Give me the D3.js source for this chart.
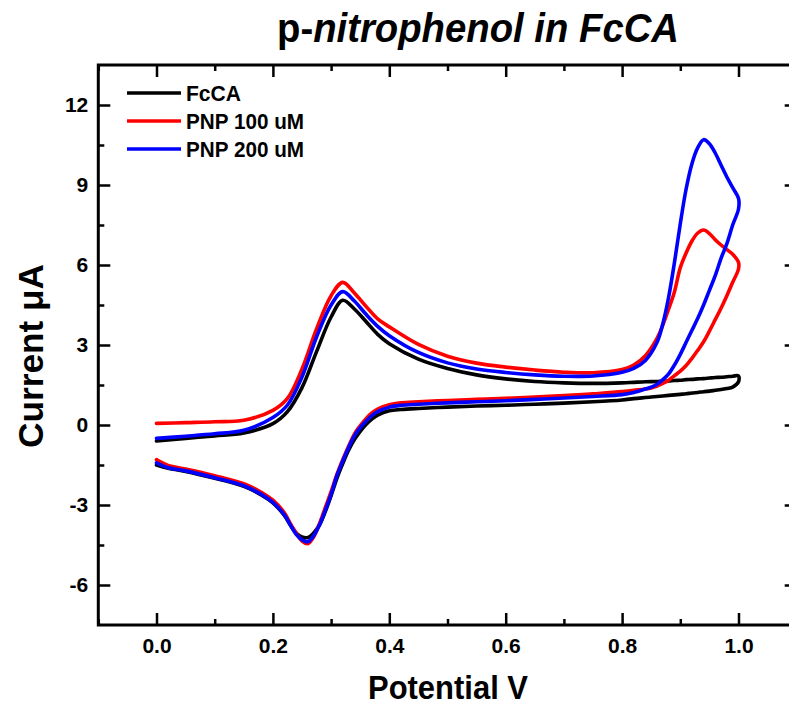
<!DOCTYPE html>
<html>
<head>
<meta charset="utf-8">
<script src="https://cdn.jsdelivr.net/npm/d3@7"></script>
<style>
  html, body { margin: 0; padding: 0; background: #fff; }
  svg { display: block; }
  text { font-family: "Liberation Sans", Arial, Helvetica, sans-serif; font-weight: bold; fill: #000; }
</style>
</head>
<body>
<svg id="chart" width="789" height="706"></svg>
<script>
// ---------------- data ----------------
const seriesNames = ["FcCA", "PNP 100 uM", "PNP 200 uM"];
const seriesColors = ["#000000", "#ff0000", "#0000ff"];

// forward (anodic) scan potentials, V
const potentialFwd = [0, 0.05, 0.1, 0.15, 0.2, 0.225, 0.25, 0.275, 0.3, 0.32, 0.34, 0.36, 0.38, 0.4, 0.45, 0.5, 0.55, 0.6, 0.65, 0.7, 0.75, 0.8, 0.82, 0.84, 0.86, 0.87, 0.88, 0.89, 0.9, 0.91, 0.92, 0.93, 0.94, 0.95, 0.96, 0.97, 0.98, 0.99, 1.0];
// reverse (cathodic) scan potentials, V
const potentialRev = [1.0, 0.99, 0.98, 0.97, 0.96, 0.95, 0.94, 0.93, 0.92, 0.91, 0.9, 0.89, 0.88, 0.87, 0.86, 0.85, 0.84, 0.82, 0.8, 0.75, 0.7, 0.65, 0.6, 0.55, 0.5, 0.45, 0.42, 0.4, 0.38, 0.37, 0.36, 0.35, 0.34, 0.33, 0.32, 0.31, 0.3, 0.29, 0.28, 0.27, 0.26, 0.25, 0.24, 0.23, 0.22, 0.2, 0.18, 0.15, 0.1, 0.05, 0.02, 0.0];

// currents, µA
const fccaFwd = [-0.6, -0.5, -0.41, -0.3, 0.05, 0.5, 1.4, 2.75, 4.05, 4.68, 4.35, 3.88, 3.4, 3.05, 2.47, 2.12, 1.88, 1.73, 1.63, 1.58, 1.56, 1.58, 1.6, 1.62, 1.63, 1.64, 1.65, 1.67, 1.68, 1.7, 1.71, 1.73, 1.74, 1.76, 1.78, 1.79, 1.81, 1.83, 1.84];
const fccaRev = [1.62, 1.42, 1.37, 1.33, 1.3, 1.27, 1.25, 1.22, 1.2, 1.17, 1.15, 1.13, 1.11, 1.09, 1.07, 1.05, 1.03, 0.99, 0.94, 0.87, 0.82, 0.78, 0.74, 0.71, 0.67, 0.62, 0.58, 0.53, 0.37, 0.22, 0.02, -0.24, -0.55, -0.95, -1.45, -2.0, -2.65, -3.25, -3.75, -4.05, -4.22, -4.2, -4.05, -3.75, -3.4, -2.92, -2.62, -2.3, -2.0, -1.74, -1.62, -1.5];

const pnp100Fwd = [0.06, 0.09, 0.12, 0.18, 0.55, 1.0, 2.1, 3.6, 4.85, 5.35, 4.95, 4.45, 3.98, 3.68, 3.02, 2.58, 2.32, 2.17, 2.06, 1.98, 1.96, 2.08, 2.25, 2.6, 3.25, 3.75, 4.35, 5.0, 5.9, 6.45, 6.9, 7.2, 7.31, 7.18, 6.95, 6.75, 6.58, 6.4, 6.1];
const pnp100Rev = [5.85, 5.35, 4.85, 4.38, 3.95, 3.52, 3.12, 2.8, 2.5, 2.23, 2.02, 1.85, 1.68, 1.56, 1.46, 1.39, 1.35, 1.3, 1.25, 1.17, 1.1, 1.05, 1.0, 0.96, 0.92, 0.87, 0.83, 0.76, 0.6, 0.45, 0.24, -0.03, -0.34, -0.8, -1.3, -1.85, -2.5, -3.1, -3.7, -4.2, -4.45, -4.35, -4.05, -3.7, -3.3, -2.82, -2.52, -2.2, -1.9, -1.65, -1.52, -1.3];

const pnp200Fwd = [-0.5, -0.42, -0.33, -0.2, 0.28, 0.75, 1.8, 3.3, 4.5, 5.0, 4.65, 4.15, 3.7, 3.35, 2.72, 2.33, 2.1, 1.97, 1.88, 1.83, 1.84, 1.98, 2.12, 2.42, 3.1, 3.8, 4.8, 6.1, 7.55, 8.85, 9.8, 10.4, 10.7, 10.55, 10.2, 9.75, 9.3, 8.9, 8.5];
const pnp200Rev = [8.1, 7.5, 6.8, 6.25, 5.6, 5.05, 4.5, 4.0, 3.55, 3.1, 2.65, 2.25, 1.92, 1.7, 1.53, 1.42, 1.35, 1.22, 1.14, 1.07, 1.01, 0.96, 0.91, 0.87, 0.83, 0.78, 0.74, 0.67, 0.5, 0.35, 0.14, -0.1, -0.41, -0.85, -1.35, -1.9, -2.6, -3.2, -3.75, -4.15, -4.38, -4.3, -4.1, -3.75, -3.38, -2.9, -2.6, -2.28, -1.98, -1.72, -1.6, -1.42];

const xMajorTicks = [0.0, 0.2, 0.4, 0.6, 0.8, 1.0];
const xMinorTicks = [-0.1, 0.1, 0.3, 0.5, 0.7, 0.9, 1.1];
const yMajorTicks = [-6, -3, 0, 3, 6, 9, 12];
const yMinorTicks = [-4.5, -1.5, 1.5, 4.5, 7.5, 10.5];

const titleText = ["p-", "nitrophenol in FcCA"];
const xLabel = "Potential V";
const yLabel = "Current \u03bcA";

// ---------------- chart ----------------
const svg = d3.select("#chart");
const plotLeft = 98.3, plotRight = 796.7, plotTop = 65, plotBottom = 625;

const x = d3.scaleLinear().domain([-0.1, 1.1]).range([plotLeft, plotRight]);
const y = d3.scaleLinear().domain([-7.5, 13.5]).range([plotBottom, plotTop]);

const curves = [
  {fwd: fccaFwd, rev: fccaRev},
  {fwd: pnp100Fwd, rev: pnp100Rev},
  {fwd: pnp200Fwd, rev: pnp200Rev}
];

const clipId = "plotclip";
svg.append("defs").append("clipPath").attr("id", clipId)
  .append("rect").attr("x", plotLeft).attr("y", plotTop)
  .attr("width", plotRight - plotLeft).attr("height", plotBottom - plotTop);

const line = d3.line()
  .x(d => x(d[0]))
  .y(d => y(d[1]))
  .curve(d3.curveCatmullRom.alpha(0.5));

const plot = svg.append("g").attr("clip-path", `url(#${clipId})`);
curves.forEach((c, i) => {
  const pts = potentialFwd.map((v, k) => [v, c.fwd[k]])
    .concat(potentialRev.map((v, k) => [v, c.rev[k]]));
  plot.append("path")
    .datum(pts)
    .attr("d", line)
    .attr("fill", "none")
    .attr("stroke", seriesColors[i])
    .attr("stroke-width", 3.6)
    .attr("stroke-linejoin", "round")
    .attr("stroke-linecap", "round");
});

// axes (ticks inward)
function styleAxis(g) {
  g.select(".domain").remove();
  g.selectAll(".tick line").attr("stroke", "#000").attr("stroke-width", 2.5);
  g.selectAll(".tick text").style("font-size", "21px").style("font-family", '"Liberation Sans", Arial, sans-serif').style("font-weight", "bold");
}
const plainFormat = d => String(d);

// bottom
svg.append("g").attr("transform", `translate(0,${plotBottom})`)
  .call(d3.axisBottom(x).tickValues(xMajorTicks).tickSize(-12).tickPadding(13).tickFormat(d3.format(".1f")))
  .call(styleAxis);
svg.append("g").attr("transform", `translate(0,${plotBottom})`)
  .call(d3.axisBottom(x).tickValues(xMinorTicks).tickSize(-6).tickFormat(""))
  .call(styleAxis);
// top
svg.append("g").attr("transform", `translate(0,${plotTop})`)
  .call(d3.axisTop(x).tickValues(xMajorTicks).tickSize(-12).tickFormat(""))
  .call(styleAxis);
svg.append("g").attr("transform", `translate(0,${plotTop})`)
  .call(d3.axisTop(x).tickValues(xMinorTicks).tickSize(-6).tickFormat(""))
  .call(styleAxis);
// left
svg.append("g").attr("transform", `translate(${plotLeft},0)`)
  .call(d3.axisLeft(y).tickValues(yMajorTicks).tickSize(-12).tickPadding(10).tickFormat(plainFormat))
  .call(styleAxis);
svg.append("g").attr("transform", `translate(${plotLeft},0)`)
  .call(d3.axisLeft(y).tickValues(yMinorTicks).tickSize(-6).tickFormat(""))
  .call(styleAxis);
// right
svg.append("g").attr("transform", `translate(${plotRight},0)`)
  .call(d3.axisRight(y).tickValues(yMajorTicks).tickSize(-12).tickFormat(""))
  .call(styleAxis);
svg.append("g").attr("transform", `translate(${plotRight},0)`)
  .call(d3.axisRight(y).tickValues(yMinorTicks).tickSize(-6).tickFormat(""))
  .call(styleAxis);

// frame
svg.append("rect")
  .attr("x", plotLeft).attr("y", plotTop)
  .attr("width", plotRight - plotLeft).attr("height", plotBottom - plotTop)
  .attr("fill", "none").attr("stroke", "#000").attr("stroke-width", 3);

// legend
const legendWidths = [55, 118, 118];
const legend = svg.append("g");
seriesNames.forEach((name, i) => {
  const ly = 93 + i * 28;
  legend.append("line")
    .attr("x1", 127).attr("x2", 181).attr("y1", ly).attr("y2", ly)
    .attr("stroke", seriesColors[i]).attr("stroke-width", 3.6);
  legend.append("text")
    .attr("x", 186).attr("y", ly).attr("dy", "0.36em")
    .style("font-size", "22px")
    .attr("textLength", legendWidths[i])
    .attr("lengthAdjust", "spacingAndGlyphs")
    .text(name);
});

// title
const title = svg.append("text")
  .attr("x", 478).attr("y", 42)
  .attr("text-anchor", "middle")
  .style("font-size", "40px")
  .attr("textLength", 402)
  .attr("lengthAdjust", "spacingAndGlyphs");
title.append("tspan").text(titleText[0]);
title.append("tspan").style("font-style", "italic").text(titleText[1]);

// axis labels
svg.append("text")
  .attr("x", 448).attr("y", 699)
  .attr("text-anchor", "middle")
  .style("font-size", "34px")
  .attr("textLength", 160)
  .attr("lengthAdjust", "spacingAndGlyphs")
  .text(xLabel);

svg.append("text")
  .attr("transform", "translate(43,356) rotate(-90)")
  .attr("text-anchor", "middle")
  .style("font-size", "35px")
  .attr("textLength", 184)
  .attr("lengthAdjust", "spacingAndGlyphs")
  .text(yLabel);
</script>
</body>
</html>
